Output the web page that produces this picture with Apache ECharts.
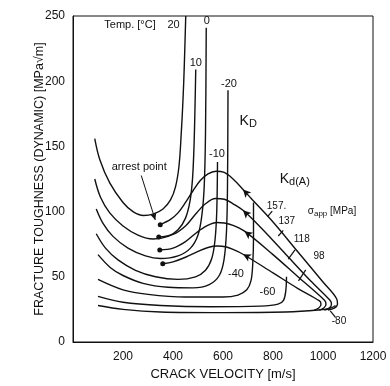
<!DOCTYPE html>
<html>
<head>
<meta charset="utf-8">
<script src="https://cdn.jsdelivr.net/npm/echarts@6/dist/echarts.min.js"></script>
<style>
html, body { margin: 0; padding: 0; background: #fff; }
#chart { width: 390px; height: 386px; }
</style>
</head>
<body>
<div id="chart"></div>
<script>
// KD curves, one per temperature: [crack velocity m/s, K MPa√m]
const kd20  = [[87,156],[107,140],[147,122],[200,107],[240,100],[282,97],[320,98],[360,102],[390,109],[410,119],[424,135],[433,160],[440,186],[445,211],[451,250]];
const kd10  = [[87,125],[110,111],[147,99],[200,89],[260,82],[320,79],[380,81],[420,86],[450,95],[468,108],[478,125],[484,150],[488,180],[491,209]];
const kd0   = [[93,102],[120,91],[160,81],[220,72],[290,66],[350,64],[420,66],[470,72],[500,82],[516,98],[525,120],[530,160],[533,241]];
const kdM10 = [[93,83],[130,72],[180,63],[250,55],[330,50],[420,48],[490,50],[530,55],[555,64],[568,78],[575,100],[578,138]];
const kdM20 = [[100,67],[150,57],[200,51],[280,45],[380,42],[480,41.5],[545,44],[585,51],[604,63],[614,85],[618,120],[620,193]];
const kdM40 = [[100,48],[200,40],[300,36.5],[450,34.5],[600,34.5],[660,36],[695,40],[712,47],[719,60],[722,80],[722,107]];
const kdM60 = [[100,35],[200,30.5],[350,28],[550,27],[750,27.5],[820,29],[842,32],[851,39],[854,50]];
const kdM80 = [[100,28],[200,25],[350,23],[600,22.5],[850,23],[980,24.5],[1030,26],[1050,28]];
const kdCurves = [kd20, kd10, kd0, kdM10, kdM20, kdM40, kdM60, kdM80];

// Kd(A) curves, one per applied stress (MPa)
const kda157 = [[1020,24.5],[1045,26],[1058,29],[1055,33],[1000,46],[900,69],[800,92],[713,110],[680,117],[640,125],[605,130],[572,131],[540,129],[510,124],[480,116],[450,107],[420,99],[390,94],[349,90]];
const kda137 = [[1005,24.5],[1025,26],[1034,29],[1028,32],[950,47],[850,67.5],[750,88],[680,101],[640,106],[605,109.5],[570,110],[530,106],[490,98],[450,89],[400,82.5],[343,80.5]];
const kda118 = [[985,24.5],[1003,26],[1012,29],[1006,32],[900,50],[800,67],[686,85],[640,89.5],[605,91.3],[575,91.6],[535,89],[495,84],[450,77],[400,72],[347,70.6]];
const kda98  = [[965,24.5],[983,26],[992,29],[986,31.5],[900,41],[800,53],[680,67.3],[640,71],[610,73],[579,73.6],[540,72.5],[500,69.5],[450,65],[400,61.5],[359,60]];
const kdaCurves = [kda157, kda137, kda118, kda98];

const arrowPts = [[680,117],[680,101],[686,85],[680,67.3]];
const arrowRot = [43, 45, 53, 62];
const arrestPts = [[349,90],[343,80.5],[347,70.6],[359,60]];

// short marker strokes beside the stress labels and -80
const tickMarks = [
  [[778,96.1],[797,100.4]],
  [[821,81.3],[841,85.6]],
  [[861,63.5],[888,70.6]],
  [[902,46.9],[931,55.3]],
  [[1029,23.9],[1050,18.9]]
];
const arrestPointer = [[273,127.7],[329,93.6]];

// text on the plot: [text, velocity, K, font size]
const notes = [
  ['Temp. [°C]', 228, 243, 11],
  ['20', 402, 243, 11],
  ['0', 535, 246, 11],
  ['10', 491, 214, 11],
  ['-20', 624, 198, 11],
  ['-10', 576, 144.5, 11],
  ['{k|K}{s|D}', 701, 169, 14],
  ['{k|K}{s|d(A)}', 887, 124.6, 14],
  ['arrest point', 265, 134, 11],
  ['{n|σ}{sub|app} {n|[MPa]}', 1036, 100, 10],
  ['157.', 814, 104, 10],
  ['137', 855, 92.5, 10],
  ['118', 915, 78.7, 10],
  ['98', 984, 65.7, 10],
  ['-40', 652, 52, 11],
  ['-60', 778, 38, 11],
  ['-80', 1064, 16, 10]
];

const ink = '#111';
const font = 'Liberation Sans, Arial, sans-serif';

const chart = echarts.init(document.getElementById('chart'));

const series = [];
kdCurves.forEach(c => series.push({
  type: 'line', data: c, smooth: 0.35, showSymbol: false,
  lineStyle: { color: ink, width: 1.4 }
}));
kdaCurves.forEach(c => series.push({
  type: 'line', data: c, smooth: 0.35, showSymbol: false,
  lineStyle: { color: ink, width: 1.4 }
}));
tickMarks.forEach(t => series.push({
  type: 'line', data: t, showSymbol: false,
  lineStyle: { color: ink, width: 1.2 }
}));
series.push({
  type: 'scatter', symbol: 'arrow', symbolSize: [6, 8],
  data: arrowPts.map((p, i) => ({ value: p, symbolRotate: arrowRot[i] })),
  itemStyle: { color: ink, opacity: 1 }
});
series.push({
  type: 'scatter', symbol: 'circle', symbolSize: 5,
  data: arrestPts, itemStyle: { color: ink, opacity: 1 },
  markLine: {
    silent: true, symbol: ['none', 'arrow'], symbolSize: [5, 7],
    label: { show: false },
    lineStyle: { color: ink, width: 1, type: 'solid', opacity: 1 },
    data: [[{ coord: arrestPointer[0] }, { coord: arrestPointer[1] }]]
  }
});
series.push({
  type: 'scatter', symbolSize: 0,
  itemStyle: { opacity: 1 },
  data: notes.map(n => ({ value: [n[1], n[2]], name: n[0], label: { fontSize: n[3] } })),
  label: {
    show: true, position: 'inside', color: ink, fontFamily: font,
    textBorderWidth: 0,
    formatter: p => p.name,
    rich: {
      k: { fontSize: 14, color: ink, fontFamily: font },
      s: { fontSize: 11, color: ink, fontFamily: font, padding: [4, 0, 0, 0] },
      n: { fontSize: 10, color: ink, fontFamily: font },
      sub: { fontSize: 8, color: ink, fontFamily: font, padding: [4, 0, 0, 0] }
    }
  }
});

chart.setOption({
  animation: false,
  backgroundColor: '#fff',
  grid: {
    left: 73, right: 17, top: 16, bottom: 43,
    containLabel: false, show: true, borderColor: ink, borderWidth: 1
  },
  xAxis: {
    type: 'value', min: 0, max: 1200, interval: 200,
    name: 'CRACK VELOCITY [m/s]', nameLocation: 'middle', nameGap: 26,
    nameMoveOverlap: false,
    nameTextStyle: { fontSize: 13, color: ink, fontFamily: font },
    axisLine: { lineStyle: { color: ink, width: 1 } },
    axisTick: { show: false },
    splitLine: { show: false },
    axisLabel: {
      fontSize: 12, color: ink, fontFamily: font, margin: 9,
      formatter: v => (v === 0 ? '' : v)
    }
  },
  yAxis: {
    type: 'value', min: 0, max: 250, interval: 50,
    name: 'FRACTURE TOUGHNESS (DYNAMIC) [MPa√m]', nameLocation: 'middle', nameGap: 27,
    nameMoveOverlap: false,
    nameTextStyle: { fontSize: 12.5, color: ink, fontFamily: font },
    axisLine: { show: true, lineStyle: { color: ink, width: 1 } },
    axisTick: { show: false },
    splitLine: { show: false },
    axisLabel: { fontSize: 12, color: ink, fontFamily: font, margin: 8 }
  },
  series: series
});
</script>
</body>
</html>
